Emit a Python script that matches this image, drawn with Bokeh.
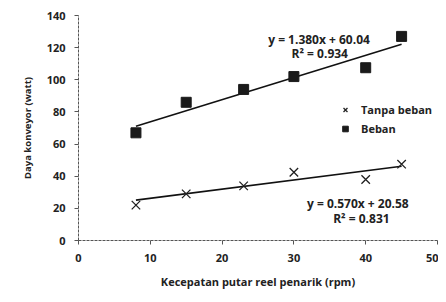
from bokeh.plotting import figure
from bokeh.models import Range1d, Legend, LegendItem, Label, FixedTicker
from bokeh.embed import file_html
from bokeh.resources import INLINE
import numpy as np

# Data
speed = [8, 15, 23, 30, 40, 45]
beban = [67, 86, 94, 102, 107.5, 127]
tanpa_beban = [22, 29, 34, 42.5, 38, 47.5]

fit_beban = (1.380, 60.04)
fit_tanpa = (0.570, 20.58)
eq_beban = ["y = 1.380x + 60.04", "R² = 0.934"]
eq_tanpa = ["y = 0.570x + 20.58", "R² = 0.831"]

x_ticks = [0, 10, 20, 30, 40, 50]
y_ticks = [0, 20, 40, 60, 80, 100, 120, 140]

FONT = "Open Sans"
TXT = "#222222"

p = figure(width=438, height=294, output_backend="svg", toolbar_location=None,
           x_range=Range1d(0, 50), y_range=Range1d(0, 140),
           min_border_left=78, min_border_right=1, min_border_top=15, min_border_bottom=54)
p.outline_line_color = None
p.xgrid.visible = False
p.ygrid.visible = False

for ax in (p.xaxis[0], p.yaxis[0]):
    ax.axis_line_color = "#555555"
    ax.axis_line_dash = "3 1"
    ax.major_tick_line_color = "#555555"
    ax.minor_tick_line_color = None
    ax.major_tick_out = 4
    ax.major_tick_in = 0
    ax.major_label_text_font = FONT
    ax.major_label_text_font_style = "bold"
    ax.major_label_text_font_size = "11px"
    ax.major_label_text_color = TXT
    ax.axis_label_text_font = FONT
    ax.axis_label_text_font_style = "bold"
    ax.axis_label_text_color = TXT

p.xaxis.ticker = FixedTicker(ticks=x_ticks)
p.yaxis.ticker = FixedTicker(ticks=y_ticks)
p.xaxis.major_label_standoff = 9
p.yaxis.major_label_standoff = 9
p.xaxis.axis_label = "Kecepatan putar reel penarik (rpm)"
p.yaxis.axis_label = "Daya konveyor (watt)"
p.xaxis.axis_label_text_font_size = "11px"
p.yaxis.axis_label_text_font_size = "9.5px"
p.xaxis.axis_label_standoff = 9
p.yaxis.axis_label_standoff = 10

xs = np.array([speed[0], speed[-1]], dtype=float)
p.line(xs, fit_beban[0] * xs + fit_beban[1], line_color="#111111", line_width=1.6)
p.line(xs, fit_tanpa[0] * xs + fit_tanpa[1], line_color="#111111", line_width=1.6)

r_sq = p.scatter(speed, beban, marker="square", size=10, fill_color="#1a1a1a", line_color="#1a1a1a")
r_x = p.scatter(speed, tanpa_beban, marker="x", size=12, line_color="#222222", line_width=1.3)

legend = Legend(items=[LegendItem(label="Tanpa beban", renderers=[r_x]),
                       LegendItem(label="Beban", renderers=[r_sq])],
                location=(260, 102), background_fill_alpha=0, border_line_color=None,
                padding=0, spacing=0, label_height=19, glyph_height=19, glyph_width=14,
                label_standoff=9, label_text_font=FONT, label_text_font_style="bold",
                label_text_font_size="11px", label_text_color=TXT)
p.add_layout(legend)

def add_label(x, y, t):
    p.add_layout(Label(x=x, y=y, text=t, text_font=FONT, text_font_style="bold",
                       text_font_size="12px", text_color=TXT,
                       text_align="center", text_baseline="middle"))

add_label(33.5, 125.1, eq_beban[0])
add_label(33.6, 116.4, eq_beban[1])
add_label(38.9, 23.0, eq_tanpa[0])
add_label(39.4, 13.7, eq_tanpa[1])

open("out.html", "w").write(file_html(p, INLINE))
